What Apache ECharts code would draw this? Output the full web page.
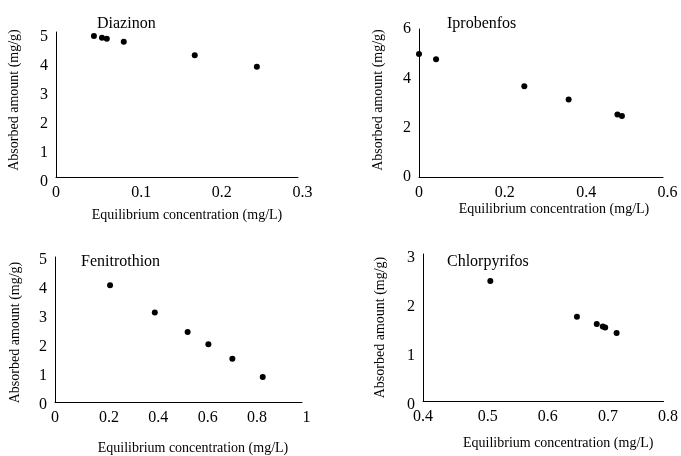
<!DOCTYPE html>
<html>
<head>
<meta charset="utf-8">
<script src="https://cdn.jsdelivr.net/npm/echarts@6/dist/echarts.min.js"></script>
<style>
  html, body { margin: 0; padding: 0; background: #fff; }
  #chart { width: 681px; height: 456px; }
</style>
</head>
<body>
<div id="chart"></div>
<script>
'use strict'
// panel names
var panelNames = ['Diazinon', 'Iprobenfos', 'Fenitrothion', 'Chlorpyrifos'];

// equilibrium concentration (mg/L) / absorbed amount (mg/g)
var diazinonX = [0.047, 0.057, 0.063, 0.084, 0.172, 0.249];
var diazinonY = [4.86, 4.80, 4.77, 4.66, 4.20, 3.80];

var iprobenfosX = [0.0, 0.042, 0.259, 0.368, 0.488, 0.499];
var iprobenfosY = [4.99, 4.77, 3.68, 3.14, 2.53, 2.47];

var fenitrothionX = [0.223, 0.404, 0.537, 0.621, 0.718, 0.841];
var fenitrothionY = [4.03, 3.09, 2.41, 1.99, 1.49, 0.86];

var chlorpyrifosX = [0.512, 0.656, 0.689, 0.699, 0.703, 0.722];
var chlorpyrifosY = [2.45, 1.72, 1.57, 1.52, 1.50, 1.39];

// axis ranges [min, max, interval]
var xRanges = [[0, 0.3, 0.1], [0, 0.6, 0.2], [0, 1, 0.2], [0.4, 0.8, 0.1]];
var yRanges = [[0, 5, 1], [0, 6, 2], [0, 5, 1], [0, 3, 1]];

var xName = 'Equilibrium concentration (mg/L)';
var yName = 'Absorbed amount (mg/g)';

var FONT = '"Liberation Serif", "DejaVu Serif", serif';

(function () {
    var chart = echarts.init(document.getElementById('chart'));
    var xs = [diazinonX, iprobenfosX, fenitrothionX, chlorpyrifosX];
    var ys = [diazinonY, iprobenfosY, fenitrothionY, chlorpyrifosY];

    var grids = [
        { left: 56, top: 32, width: 242, height: 145 },
        { left: 419, top: 29, width: 244, height: 148 },
        { left: 55, top: 257, width: 247, height: 145 },
        { left: 423, top: 254, width: 242, height: 147 }
    ];
    var titlePos = [[92, 11], [442, 11], [76, 249], [442, 249]];
    var xGap = [31, 24, 39, 35];
    var xPad = [20, 26, 29, 30];
    var yGap = [35, 34, 33, 36];
    var yPad = [[0, 0, 0, 9], [0, 0, 0, 6], [0, 6, 0, 0], [0, 0, 0, 0]];
    // y labels sit a little below their ticks in the reference
    var yLabelDrop = [10, 0, 6, 8];

    var option = {
        backgroundColor: '#fff',
        animation: false,
        title: [],
        grid: grids,
        xAxis: [],
        yAxis: [],
        series: []
    };

    for (var i = 0; i < 4; i++) {
        option.title.push({
            text: panelNames[i],
            left: titlePos[i][0],
            top: titlePos[i][1],
            textStyle: { fontFamily: FONT, fontSize: 16, fontWeight: 'normal', color: '#000' }
        });
        option.xAxis.push({
            type: 'value',
            gridIndex: i,
            min: xRanges[i][0],
            max: xRanges[i][1],
            interval: xRanges[i][2],
            name: xName,
            nameLocation: 'middle',
            nameGap: xGap[i],
            nameTextStyle: { fontFamily: FONT, fontSize: 14, color: '#000', padding: [0, 0, 0, xPad[i]] },
            axisLine: { show: true, onZero: false, lineStyle: { color: '#000', width: 1 } },
            axisTick: { show: false },
            splitLine: { show: false },
            axisLabel: {
                fontFamily: FONT, fontSize: 16, color: '#000', margin: 8,
                formatter: (function (lo) {
                    return function (v) {
                        var s = String(Math.round(v * 10) / 10);
                        return Math.abs(v - lo) < 1e-9 ? s : '{s|' + s + '}';
                    };
                })(xRanges[i][0]),
                rich: { s: { fontFamily: FONT, fontSize: 16, color: '#000', padding: [0, 0, 0, 9] } }
            }
        });
        var yLabel = { fontFamily: FONT, fontSize: 16, color: '#000', margin: 8 };
        if (yLabelDrop[i] > 0) {
            yLabel.verticalAlign = 'top';
            yLabel.lineHeight = yLabelDrop[i];
        }
        option.yAxis.push({
            type: 'value',
            gridIndex: i,
            min: yRanges[i][0],
            max: yRanges[i][1],
            interval: yRanges[i][2],
            name: yName,
            nameLocation: 'middle',
            nameGap: yGap[i],
            nameTextStyle: { fontFamily: FONT, fontSize: 14, color: '#000', padding: yPad[i] },
            axisLine: { show: true, onZero: false, lineStyle: { color: '#000', width: 1 } },
            axisTick: { show: false },
            splitLine: { show: false },
            axisLabel: yLabel
        });
        var pts = [];
        for (var k = 0; k < xs[i].length; k++) {
            pts.push([xs[i][k], ys[i][k]]);
        }
        option.series.push({
            type: 'scatter',
            name: panelNames[i],
            xAxisIndex: i,
            yAxisIndex: i,
            symbol: 'circle',
            symbolSize: 6,
            itemStyle: { color: '#000', opacity: 1 },
            data: pts
        });
    }

    chart.setOption(option);
})();
</script>
</body>
</html>
